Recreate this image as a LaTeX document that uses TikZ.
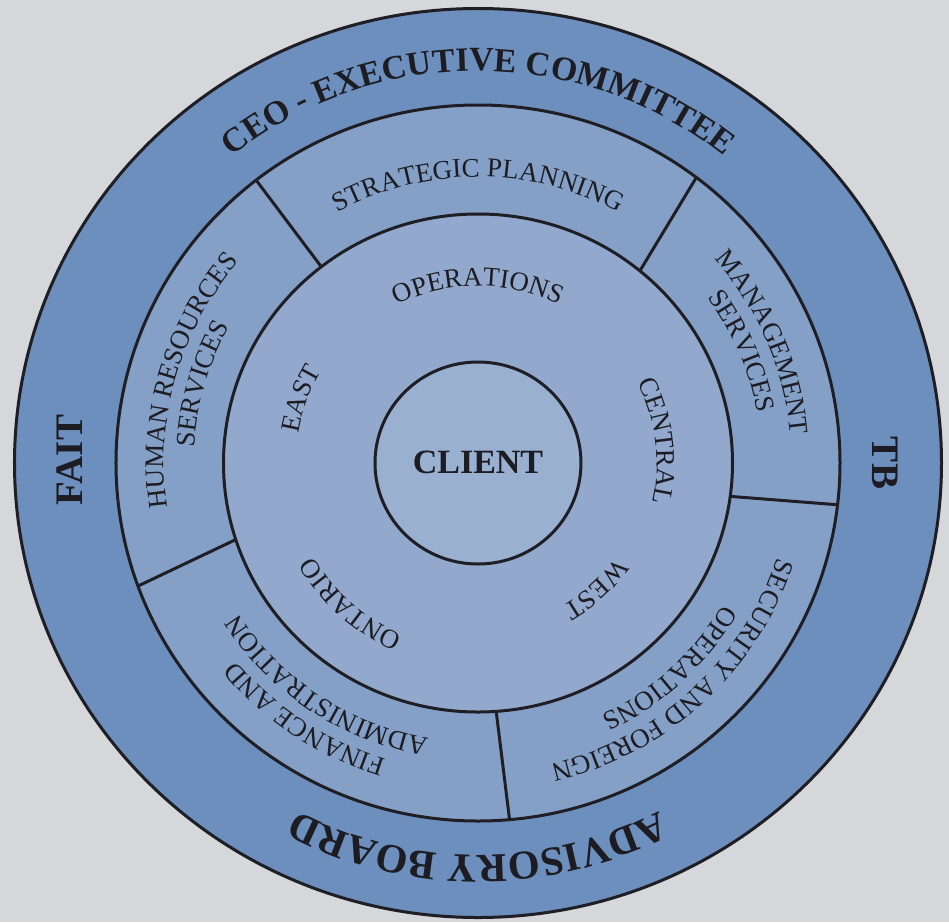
\documentclass[tikz,border=0pt]{standalone}
\usepackage{fontspec}
\setmainfont{Liberation Serif}
\usetikzlibrary{decorations.text}
\definecolor{bgC}{RGB}{213,215,218}
\definecolor{outerC}{RGB}{109,143,189}
\definecolor{midC}{RGB}{133,160,199}
\definecolor{innerC}{RGB}{146,169,205}
\definecolor{centerC}{RGB}{154,176,209}
\definecolor{lineC}{RGB}{30,30,36}
\definecolor{textC}{RGB}{28,28,34}
% #1 centre angle, #2 half span, #3 x radius, #4 y radius, #5 font, #6 text
\newcommand{\ringtext}[6]{%
  \pgfmathsetmacro\rtStart{#1+#2}%
  \pgfmathsetmacro\rtEnd{#1-#2}%
  \path[decorate, decoration={text along path, text align=center, text color=textC, text={|#5|#6}}]
    (\rtStart:#3 and #4) arc[start angle=\rtStart, end angle=\rtEnd, x radius=#3, y radius=#4];
}
\newcommand{\bigB}{\bfseries\fontsize{34pt}{40pt}\selectfont}
\newcommand{\advB}{\bfseries\fontsize{41pt}{48pt}\selectfont}
\newcommand{\midF}{\fontsize{27pt}{30pt}\selectfont}
\begin{document}
\begin{tikzpicture}[
  ringline/.style={draw=lineC, line width=3pt},
  divider/.style={draw=lineC, line width=3pt},
  sidelabel/.style={font=\bfseries\fontsize{39pt}{44pt}\selectfont, text=textC, inner sep=0pt},
  clientlabel/.style={font=\bfseries\fontsize{34pt}{40pt}\selectfont, text=textC, inner sep=0pt}
]
\useasboundingbox (-478pt,-459pt) rectangle (471pt,463pt);
\fill[bgC] (-478pt,-459pt) rectangle (471pt,463pt);
% filled rings
\fill[outerC] (0,0) ellipse [x radius=463.5pt, y radius=454.5pt];
\fill[midC] (0,0) ellipse [x radius=362pt, y radius=358pt];
\fill[innerC] (0,0) ellipse [x radius=254.5pt, y radius=249pt];
\fill[centerC] (0,0) ellipse [x radius=103pt, y radius=101pt];
% dividers of the middle ring
\coordinate (d1i) at (128:254.5pt and 249pt);
\coordinate (d1o) at (127.8:362pt and 358pt);
\coordinate (d2i) at (50.5:254.5pt and 249pt);
\coordinate (d2o) at (52.9:362pt and 358pt);
\coordinate (d3i) at (-7.7:254.5pt and 249pt);
\coordinate (d3o) at (-6.7:362pt and 358pt);
\coordinate (d4i) at (-85.9:254.5pt and 249pt);
\coordinate (d4o) at (-85:362pt and 358pt);
\coordinate (d5i) at (197.9:254.5pt and 249pt);
\coordinate (d5o) at (200.1:362pt and 358pt);
\draw[divider] (d1i) -- (d1o);
\draw[divider] (d2i) -- (d2o);
\draw[divider] (d3i) -- (d3o);
\draw[divider] (d4i) -- (d4o);
\draw[divider] (d5i) -- (d5o);
% outlines
\draw[ringline] (0,0) ellipse [x radius=463.5pt, y radius=454.5pt];
\draw[ringline] (0,0) ellipse [x radius=362pt, y radius=358pt];
\draw[ringline] (0,0) ellipse [x radius=254.5pt, y radius=249pt];
\draw[ringline] (0,0) ellipse [x radius=103pt, y radius=101pt];
% outer ring texts
\ringtext{90}{75}{395pt}{392pt}{\bigB}{CEO - EXECUTIVE COMMITTEE}
\ringtext{270}{60}{395pt}{392pt}{\advB}{ADVISORY BOARD}
\node[sidelabel, rotate=90] (fait) at (-408pt,3pt) {FAIT};
\node[sidelabel, rotate=-90] (tb) at (407pt,0pt) {TB};
% middle ring texts
\ringtext{90}{70}{292pt}{286pt}{\midF}{STRATEGIC PLANNING}
\ringtext{164}{70}{314pt}{310pt}{\midF}{HUMAN RESOURCES}
\ringtext{164}{70}{284pt}{280pt}{\midF}{SERVICES}
\ringtext{23}{70}{314pt}{310pt}{\midF}{MANAGEMENT}
\ringtext{23}{70}{284pt}{280pt}{\midF}{SERVICES}
\ringtext{-47}{70}{314pt}{310pt}{\midF}{SECURITY AND FOREIGN}
\ringtext{-47}{70}{284pt}{280pt}{\midF}{OPERATIONS}
\ringtext{236}{70}{314pt}{310pt}{\midF}{FINANCE AND}
\ringtext{236}{70}{284pt}{280pt}{\midF}{ADMINISTRATION}
% inner ring texts
\ringtext{90}{70}{180pt}{177pt}{\midF}{OPERATIONS}
\ringtext{160}{60}{182pt}{179pt}{\midF}{EAST}
\ringtext{7}{60}{179pt}{176pt}{\midF}{CENTRAL}
\ringtext{-47}{60}{168pt}{165pt}{\midF}{WEST}
\ringtext{228}{60}{190pt}{187pt}{\midF}{ONTARIO}
% centre
\node[clientlabel] (client) at (0pt,1pt) {CLIENT};
\end{tikzpicture}
\end{document}
